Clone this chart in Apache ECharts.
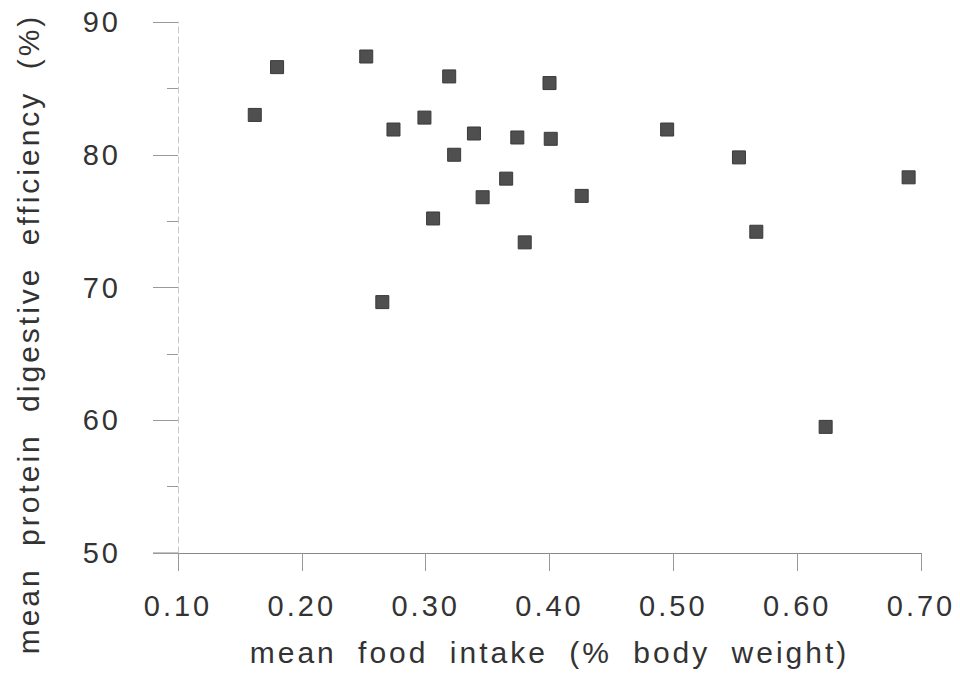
<!DOCTYPE html>
<html>
<head>
<meta charset="utf-8">
<script src="https://cdn.jsdelivr.net/npm/echarts@6/dist/echarts.min.js"></script>
<style>
  html, body { margin: 0; padding: 0; background: #fff; }
  #chart { width: 960px; height: 679px; }
  #chart text { letter-spacing: 3px; word-spacing: 10px; }
</style>
</head>
<body>
<div id="chart"></div>
<script>
// Data
var foodIntake = [0.162, 0.180, 0.252, 0.265, 0.274, 0.299, 0.319, 0.323, 0.306, 0.339, 0.346,
                  0.365, 0.374, 0.380, 0.400, 0.401, 0.426, 0.495, 0.553, 0.567, 0.623, 0.690];
var digestEff  = [83.0, 86.6, 87.4, 68.9, 81.9, 82.8, 85.9, 80.0, 75.2, 81.6, 76.8,
                  78.2, 81.3, 73.4, 85.4, 81.2, 76.9, 81.9, 79.8, 74.2, 59.5, 78.3];
var xTicks = [0.10, 0.20, 0.30, 0.40, 0.50, 0.60, 0.70];
var yTicks = [50, 60, 70, 80, 90];
var xTitle = 'mean food intake (% body weight)';
var yTitle = 'mean protein digestive efficiency (%)';

var points = foodIntake.map(function (x, i) { return [x, digestEff[i]]; });

var chart = echarts.init(document.getElementById('chart'), null, { renderer: 'svg' });
var textColor = '#333';
var font = 'Liberation Sans, Arial, sans-serif';

var option = {
  backgroundColor: '#fff',
  animation: false,
  grid: { left: 178, right: 39, top: 22, bottom: 126, containLabel: false },
  xAxis: {
    type: 'value',
    min: xTicks[0],
    max: xTicks[xTicks.length - 1],
    interval: 0.1,
    name: xTitle,
    nameLocation: 'middle',
    nameGap: 84,
    nameTextStyle: { fontSize: 30, color: textColor, fontFamily: font },
    axisLine: { show: true, lineStyle: { color: '#888', width: 1 } },
    axisTick: { show: true, length: 18, lineStyle: { color: '#999', width: 1 } },
    axisLabel: {
      margin: 38, fontSize: 29, color: textColor, fontFamily: font,
      formatter: function (v) { return v.toFixed(2); }
    },
    splitLine: { show: false }
  },
  yAxis: {
    type: 'value',
    min: yTicks[0],
    max: yTicks[yTicks.length - 1],
    interval: 10,
    axisLine: { show: true, lineStyle: { color: '#c8c8c8', width: 1, type: [6, 4] } },
    axisTick: { show: true, length: 25, lineStyle: { color: '#999', width: 1 } },
    minorTick: { show: true, splitNumber: 2, length: 11, lineStyle: { color: '#999', width: 1 } },
    axisLabel: { margin: 57, fontSize: 29, color: textColor, fontFamily: font },
    splitLine: { show: false }
  },
  graphic: [{
    type: 'text',
    x: 28,
    y: 334,
    rotation: Math.PI / 2,
    style: {
      text: yTitle,
      fontSize: 30,
      fontFamily: font,
      fill: textColor,
      align: 'center',
      verticalAlign: 'middle'
    }
  }],
  series: [{
    type: 'scatter',
    data: points,
    symbol: 'rect',
    symbolSize: 13,
    itemStyle: { color: '#4f4f4f', borderColor: '#3a3a3a', borderWidth: 1, opacity: 1 }
  }]
};
chart.setOption(option);

// extend the x axis line left to the end of the y major ticks
var origin = chart.convertToPixel({ gridIndex: 0 }, [xTicks[0], yTicks[0]]);
chart.setOption({
  graphic: [{}, {
    type: 'line',
    shape: { x1: origin[0] - 25, y1: origin[1], x2: origin[0], y2: origin[1] },
    style: { stroke: '#888', lineWidth: 1 }
  }]
});
</script>
</body>
</html>
